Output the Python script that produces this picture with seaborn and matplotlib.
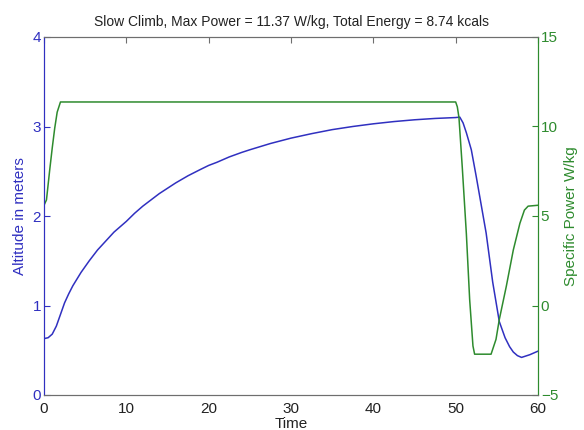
import matplotlib
matplotlib.use("Agg")
import matplotlib.pyplot as plt
import seaborn as sns
import pandas as pd

sns.set_style("white")
plt.rcParams['font.family'] = ['Liberation Sans', 'DejaVu Sans']

title = "Slow Climb, Max Power = 11.37 W/kg, Total Energy = 8.74 kcals"
xlabel = "Time"
ylabel_left = "Altitude in meters"
ylabel_right = "Specific Power W/kg"

alt_time = [0, 0.5, 1.0, 1.5, 2.0, 2.5, 3.0, 3.5, 4.5, 5.5, 6.5, 7.5, 8.5, 10, 11,
            12, 13, 14, 15, 16, 17.5, 19, 20, 21, 22.5, 24, 25, 27.5, 30, 32.5,
            35, 37.5, 40, 42.5, 45, 47.5, 50, 50.5, 50.9, 51.3, 51.9, 52.5, 53.7,
            54.5, 55.3, 56.0, 56.55, 57.0, 57.5, 58.0, 59.0, 60.0]
alt_val = [0.63, 0.64, 0.68, 0.77, 0.90, 1.03, 1.13, 1.22, 1.37, 1.50, 1.62, 1.72,
           1.82, 1.94, 2.03, 2.11, 2.18, 2.25, 2.31, 2.37, 2.45, 2.52, 2.565, 2.60,
           2.66, 2.71, 2.74, 2.81, 2.87, 2.92, 2.965, 3.00, 3.03, 3.055, 3.075,
           3.09, 3.10, 3.105, 3.04, 2.93, 2.74, 2.44, 1.81, 1.26, 0.82, 0.64, 0.54,
           0.48, 0.44, 0.42, 0.45, 0.49]

pow_time = [0, 0.3, 0.7, 1.0, 1.3, 1.6, 2.0, 50.0, 50.2, 50.4, 50.8, 51.3, 51.7,
            52.1, 52.3, 54.3, 54.9, 55.3, 56.15, 57.0, 57.8, 58.35, 58.8, 60.0]
pow_val = [5.6, 5.9, 7.6, 8.8, 9.9, 10.8, 11.37, 11.37, 11.1, 10.5, 7.74, 4.0, 0.33,
           -2.26, -2.72, -2.72, -1.89, -0.78, 1.07, 3.1, 4.59, 5.33, 5.55, 5.6]

blue = '#3030c0'
green = '#2e8b2e'
gray = '#6e6e6e'
dark = '#222222'

df_alt = pd.DataFrame({"t": alt_time, "v": alt_val})
df_pow = pd.DataFrame({"t": pow_time, "v": pow_val})

fig = plt.figure(figsize=(5.84, 4.30), dpi=100)
ax = fig.add_axes([44/584, 1-395/430, (538-44)/584, (395-37)/430])
ax2 = ax.twinx()

sns.lineplot(data=df_alt, x="t", y="v", ax=ax, color=blue, linewidth=1.1)
sns.lineplot(data=df_pow, x="t", y="v", ax=ax2, color=green, linewidth=1.1)

ax.set_xlim(0, 60)
ax.set_ylim(0, 4)
ax2.set_ylim(-5, 15)
ax.set_xticks([0, 10, 20, 30, 40, 50, 60])
ax.set_yticks([0, 1, 2, 3, 4])
ax2.set_yticks([-5, 0, 5, 10, 15])

fs = 11
ax.tick_params(axis='x', direction='in', length=4, colors=gray, labelcolor=dark,
               labelsize=fs, top=True, pad=5)
ax.tick_params(axis='y', direction='in', length=4, colors=blue, labelcolor=blue,
               labelsize=fs, pad=2)
ax2.tick_params(axis='y', direction='in', length=4, colors=green, labelcolor=green,
                labelsize=fs, pad=2)

for a in (ax, ax2):
    a.spines['top'].set_color(gray)
    a.spines['bottom'].set_color(gray)
    a.spines['left'].set_color(blue)
    a.spines['right'].set_color(green)
    for s in a.spines.values():
        s.set_linewidth(0.8)

ax.set_xlabel(xlabel, fontsize=fs, color=dark, labelpad=1)
ax.set_ylabel(ylabel_left, fontsize=fs, color=blue, labelpad=4)
ax2.set_ylabel(ylabel_right, fontsize=fs, color=green, labelpad=4)
ax.set_title(title, fontsize=10, color=dark, pad=8)

fig.savefig("out.png", dpi=100)
